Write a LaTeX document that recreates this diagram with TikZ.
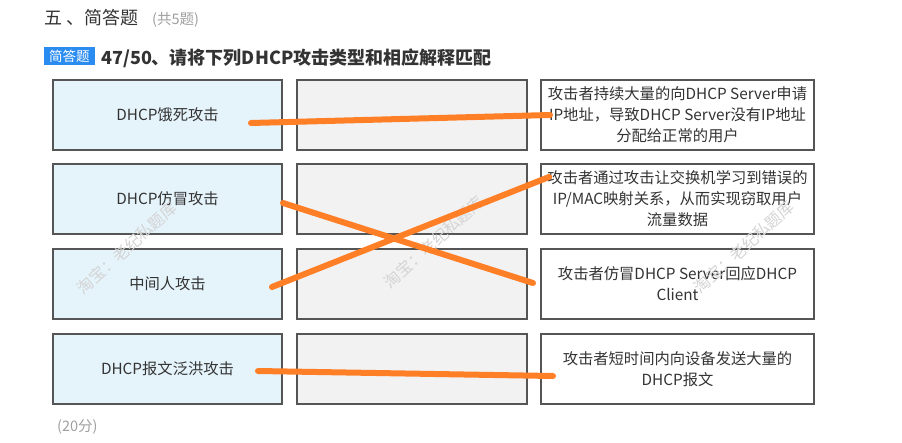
\documentclass[tikz,border=0pt]{standalone}
\usepackage{fontspec}
\setmainfont{Noto Sans CJK SC}
\definecolor{txt}{HTML}{333333}
\definecolor{greytxt}{HTML}{A0A0A0}
\definecolor{lfill}{HTML}{E5F3FB}
\definecolor{mfill}{HTML}{F2F2F2}
\definecolor{bord}{HTML}{555555}
\definecolor{orangeln}{HTML}{FF7F27}
\definecolor{badge}{HTML}{2A8CF0}
\definecolor{wmark}{HTML}{D4D4D4}
\tikzset{
  cell/.style={draw=bord, line width=1.1pt, minimum height=70pt, inner sep=0pt,
    text=txt, font=\fontsize{15.3}{21}\selectfont, align=center},
  lbox/.style={cell, fill=lfill, minimum width=229pt},
  mbox/.style={cell, fill=mfill, minimum width=230pt},
  rbox/.style={cell, fill=white, minimum width=273pt},
  wm/.style={text=wmark, font=\fontsize{16}{16}\selectfont, rotate=42, inner sep=0pt},
  matchline/.style={draw=orangeln, line width=6pt, line cap=round},
}
\begin{document}
\begin{tikzpicture}[x=1pt, y=-1pt]
\useasboundingbox (0,0) rectangle (902,442);
\fill[white] (0,0) rectangle (902,442);

% header
\node[anchor=west, inner sep=0pt, text=txt, font=\fontsize{18}{18}\selectfont] (h1) at (44,18) {五 、简答题};
\node[anchor=west, inner sep=0pt, text=greytxt, font=\fontsize{14.5}{14.5}\selectfont] (h2) at (152,20) {(共5题)};

% badge and title
\node[fill=badge, text=white, anchor=west, inner xsep=5pt, inner ysep=0pt, minimum height=18pt,
  font=\fontsize{13.5}{13.5}\selectfont] (badge) at (44,56) {简答题};
\node[anchor=west, inner sep=0pt, text=txt, font=\fontsize{18}{18}\selectfont\bfseries] (title) at (101,58)
  {47/50、请将下列DHCP攻击类型和相应解释匹配};

% boxes
\node[lbox] (L1) at (167.5,115) {DHCP饿死攻击};
\node[lbox] (L2) at (167.5,199) {DHCP仿冒攻击};
\node[lbox] (L3) at (167.5,284) {中间人攻击};
\node[lbox] (L4) at (167.5,369) {DHCP报文泛洪攻击};

\node[mbox] (M1) at (412,115) {};
\node[mbox] (M2) at (412,199) {};
\node[mbox] (M3) at (412,284) {};
\node[mbox] (M4) at (412,369) {};

\node[rbox] (R1) at (677.5,115) {攻击者持续大量的向DHCP Server申请\\IP地址，导致DHCP Server没有IP地址\\分配给正常的用户};
\node[rbox] (R2) at (677.5,199) {攻击者通过攻击让交换机学习到错误的\\IP/MAC映射关系，从而实现窃取用户\\流量数据};
\node[rbox] (R3) at (677.5,284) {攻击者仿冒DHCP Server回应DHCP\\Client};
\node[rbox] (R4) at (677.5,369) {攻击者短时间内向设备发送大量的\\DHCP报文};

% score
\node[anchor=west, inner sep=0pt, text=greytxt, font=\fontsize{14.5}{14.5}\selectfont] (score) at (57,427) {(20分)};

% watermarks
\node[wm] (w1) at (127,248) {淘宝：老纪私题库};
\node[wm] (w2) at (434,242) {淘宝：老纪私题库};
\node[wm] (w3) at (744,247) {淘宝：老纪私题库};

% matching strokes
\coordinate (a1) at (251,123);
\coordinate (b1) at (550,115);
\coordinate (a2) at (283,203);
\coordinate (b2) at (533,283);
\coordinate (a3) at (272,287);
\coordinate (b3) at (549,177);
\coordinate (a4) at (258,371);
\coordinate (b4) at (553,376);
\draw[matchline] (a1) -- (b1);
\draw[matchline] (a2) -- (b2);
\draw[matchline] (a3) -- (b3);
\draw[matchline] (a4) -- (b4);
\end{tikzpicture}
\end{document}
